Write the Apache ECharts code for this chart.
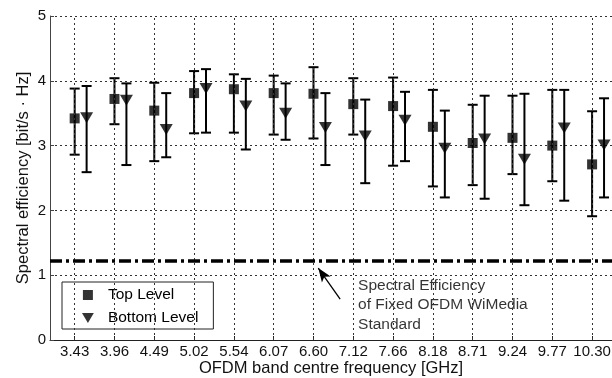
<!DOCTYPE html>
<html>
<head>
<meta charset="utf-8">
<script src="https://cdn.jsdelivr.net/npm/echarts@6/dist/echarts.min.js"></script>
<style>
html,body{margin:0;padding:0;background:#fff;}
#c{width:612px;height:378px;}
</style>
</head>
<body>
<div id="c"></div>
<script>
// Categories (band centre frequencies, GHz)
const categories = ['3.43','3.96','4.49','5.02','5.54','6.07','6.60','7.12','7.66','8.18','8.71','9.24','9.77','10.30'];
// Top Level: mean, upper and lower error bounds
const topMean = [3.42,3.72,3.54,3.81,3.87,3.81,3.80,3.64,3.61,3.29,3.04,3.12,3.00,2.71];
const topHigh = [3.88,4.04,3.97,4.15,4.10,4.08,4.21,4.04,4.05,3.86,3.63,3.77,3.86,3.53];
const topLow  = [2.86,3.33,2.76,3.19,3.20,3.17,3.11,3.17,2.69,2.37,2.39,2.56,2.45,1.91];
// Bottom Level: mean, upper and lower error bounds
const botMean = [3.43,3.70,3.25,3.88,3.61,3.50,3.28,3.15,3.39,2.96,3.10,2.79,3.27,3.01];
const botHigh = [3.92,3.96,3.81,4.18,4.03,3.96,3.81,3.71,3.83,3.54,3.77,3.80,3.86,3.73];
const botLow  = [2.59,2.70,2.82,3.20,2.94,3.09,2.70,2.42,2.76,2.20,2.18,2.08,2.15,2.20];
// Fixed OFDM WiMedia reference spectral efficiency
const wimediaLevel = 1.22;
// Annotation: arrow from tail to head, text anchor (data coordinates)
const arrowTail = [7.67, 0.63];
const arrowHead = [7.12, 1.11];
const annotationAnchor = [8.12, 0.995];
const annotationText = 'Spectral Efficiency\nof Fixed OFDM WiMedia\nStandard';
const yTicks = [0,1,2,3,4,5];

const FONT = '"Liberation Sans", Arial, sans-serif';
const BOT_OFFSET = 0.3;
const triPath = 'path://M0,0L13,0L6.5,11Z';
const sqPath = 'path://M0,0L10,0L10,10L0,10Z';

const xPos = categories.map((c,i)=>i+1);
const topPts = topMean.map((v,i)=>[xPos[i], v]);
const botPts = botMean.map((v,i)=>[xPos[i]+BOT_OFFSET, v]);
const topErr = topMean.map((v,i)=>[xPos[i], topLow[i], topHigh[i]]);
const botErr = botMean.map((v,i)=>[xPos[i]+BOT_OFFSET, botLow[i], botHigh[i]]);

function errRender(params, api){
  const x = api.value(0), lo = api.value(1), hi = api.value(2);
  const a = api.coord([x, lo]), b = api.coord([x, hi]);
  const hw = 5;
  const st = {stroke:'#000', lineWidth:2};
  return {type:'group', children:[
    {type:'line', shape:{x1:a[0],y1:a[1],x2:b[0],y2:b[1]}, style:st},
    {type:'line', shape:{x1:b[0]-hw,y1:b[1],x2:b[0]+hw,y2:b[1]}, style:st},
    {type:'line', shape:{x1:a[0]-hw,y1:a[1],x2:a[0]+hw,y2:a[1]}, style:st}
  ]};
}

const gridLineStyle = {color:'#333', width:1, type:[2,3]};

const chart = echarts.init(document.getElementById('c'), null, {renderer:'canvas'});
const option = {
  animation:false,
  backgroundColor:'#fff',
  textStyle:{fontFamily:FONT},
  grid:{left:50, right:0, top:16, bottom:38, containLabel:false, outerBoundsMode:'none'},
  legend:{
    data:[{name:'Top Level', icon:sqPath},{name:'Bottom Level', icon:triPath}],
    orient:'vertical', left:62, top:282,
    itemWidth:30, itemHeight:10, itemGap:7,
    padding:[5,15,3,20],
    borderColor:'#222', borderWidth:1, backgroundColor:'#fff',
    textStyle:{fontFamily:FONT, fontSize:15.5, color:'#000'},
    selectedMode:false
  },
  xAxis:{
    type:'value', min:0.38, max:14.5,
    axisLine:{show:true, onZero:false, lineStyle:{color:'#222', width:1}},
    axisTick:{show:true, inside:true, length:4, lineStyle:{color:'#222'}, customValues:xPos},
    axisLabel:{
      margin:4, fontSize:15, color:'#111', fontFamily:FONT, customValues:xPos,
      formatter:function(v){
        const i = Math.round(v);
        if (Math.abs(v-i) > 1e-6 || i < 1 || i > categories.length) return '';
        return categories[i-1];
      }
    },
    splitLine:{show:false},
    name:'OFDM band centre frequency [GHz]', nameLocation:'middle', nameGap:20, nameMoveOverlap:false,
    nameTextStyle:{fontSize:16.5, color:'#111', fontFamily:FONT}
  },
  yAxis:{
    type:'value', min:yTicks[0], max:yTicks[yTicks.length-1], interval:1,
    axisLine:{show:true, lineStyle:{color:'#444', width:1}},
    axisTick:{show:true, inside:true, length:4, lineStyle:{color:'#444'}},
    axisLabel:{margin:4, fontSize:15, color:'#111', fontFamily:FONT},
    splitLine:{show:true, lineStyle:gridLineStyle},
    name:'Spectral efficiency [bit/s \u00b7 Hz]', nameLocation:'middle', nameGap:18, nameMoveOverlap:false,
    nameTextStyle:{fontSize:16.5, color:'#111', fontFamily:FONT}
  },
  series:[
    {
      // vertical dotted grid lines at each category
      type:'scatter', name:'vgrid', data:[], silent:true, z:1,
      markLine:{
        silent:true, symbol:'none', label:{show:false},
        lineStyle:gridLineStyle,
        data:xPos.map(x=>({xAxis:x}))
      }
    },
    {
      type:'custom', name:'topErr', renderItem:errRender, data:topErr,
      encode:{x:0, y:[1,2]}, silent:true, z:2,
      markLine:{
        silent:true, symbol:'none', label:{show:false},
        lineStyle:{color:'#000', width:3.5, type:[12,4,3,4]},
        data:[{yAxis:wimediaLevel}]
      }
    },
    {
      type:'custom', name:'botErr', renderItem:errRender, data:botErr,
      encode:{x:0, y:[1,2]}, silent:true, z:2,
      markLine:{
        silent:true, label:{show:false}, symbolSize:[8,14],
        lineStyle:{color:'#000', width:1.3, type:'solid'},
        data:[[{coord:arrowTail, symbol:'none'},{coord:arrowHead, symbol:'arrow'}]]
      }
    },
    {
      type:'scatter', name:'Top Level', data:topPts, symbol:'rect', symbolSize:10,
      itemStyle:{color:'#000'}, z:3
    },
    {
      type:'scatter', name:'Bottom Level', data:botPts, symbol:triPath, symbolSize:[13,11],
      itemStyle:{color:'#000'}, z:3
    },
    {
      type:'scatter', name:'annotation', data:[annotationAnchor], symbolSize:0, silent:true,
      label:{show:true, position:[0,0], align:'left', verticalAlign:'top',
        formatter:annotationText, fontSize:15.5, lineHeight:19.6, color:'#000', fontFamily:FONT,
        textBorderWidth:0}
    }
  ]
};
chart.setOption(option);
</script>
</body>
</html>
